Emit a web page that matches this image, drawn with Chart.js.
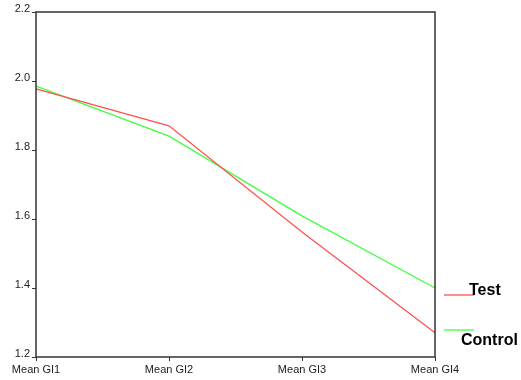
<!DOCTYPE html>
<html>
<head>
<meta charset="utf-8">
<script src="https://cdn.jsdelivr.net/npm/chart.js@4/dist/chart.umd.min.js"></script>
<style>
  html, body { margin: 0; padding: 0; background: #fff; }
  #wrap { width: 521px; height: 380px; }
</style>
</head>
<body>
<div id="wrap"><canvas id="chart" width="521" height="380"></canvas></div>
<script>
// chart data
const categories = ['Mean GI1', 'Mean GI2', 'Mean GI3', 'Mean GI4'];
const testValues = [1.977, 1.87, 1.562, 1.27];
const controlValues = [1.985, 1.84, 1.609, 1.40];
const yTicks = [1.2, 1.4, 1.6, 1.8, 2.0, 2.2];

const axisColor = '#333';

// box around the plot area and the side legend
const framePlugin = {
    id: 'frame',
    afterDraw(chart) {
        const { ctx, chartArea: a } = chart;
        ctx.save();
        ctx.strokeStyle = axisColor;
        ctx.lineWidth = 1.5;
        ctx.strokeRect(a.left, a.top, a.right - a.left, a.bottom - a.top);

        // legend
        const items = [
            { label: 'Test', color: '#ff5050', lineY: 295, textY: 291, textX: 469 },
            { label: 'Control', color: '#40ff40', lineY: 330, textY: 341, textX: 461 }
        ];
        ctx.font = 'bold 16px "Liberation Sans", Arial, sans-serif';
        ctx.textBaseline = 'middle';
        items.forEach(it => {
            ctx.strokeStyle = it.color;
            ctx.lineWidth = 1.3;
            ctx.beginPath();
            ctx.moveTo(444, it.lineY);
            ctx.lineTo(474, it.lineY);
            ctx.stroke();
            ctx.fillStyle = '#000';
            ctx.fillText(it.label, it.textX, it.textY);
        });
        ctx.restore();
    }
};

new Chart(document.getElementById('chart'), {
    type: 'line',
    data: {
        labels: categories,
        datasets: [
            {
                label: 'Test',
                data: testValues,
                borderColor: '#ff5050',
                borderWidth: 1.3,
                pointRadius: 0,
                tension: 0
            },
            {
                label: 'Control',
                data: controlValues,
                borderColor: '#40ff40',
                borderWidth: 1.3,
                pointRadius: 0,
                tension: 0
            }
        ]
    },
    options: {
        responsive: false,
        animation: false,
        layout: { padding: { top: 12, right: 86, left: 0, bottom: 0 } },
        plugins: {
            legend: { display: false },
            tooltip: { enabled: false }
        },
        scales: {
            x: {
                offset: false,
                grid: {
                    drawOnChartArea: false,
                    drawTicks: true,
                    tickLength: 4,
                    color: axisColor
                },
                border: { display: false },
                ticks: {
                    color: '#222',
                    font: { family: '"Liberation Sans", Arial, sans-serif', size: 11 },
                    padding: 2,
                    maxRotation: 0,
                    autoSkip: false
                },
                afterFit(scale) { scale.height = 23; }
            },
            y: {
                min: 1.2,
                max: 2.2,
                afterBuildTicks(scale) {
                    scale.ticks = yTicks.map(v => ({ value: v }));
                },
                grid: {
                    drawOnChartArea: false,
                    drawTicks: true,
                    tickLength: 4,
                    color: axisColor
                },
                border: { display: false },
                ticks: {
                    color: '#222',
                    font: { family: '"Liberation Sans", Arial, sans-serif', size: 11 },
                    padding: 2,
                    labelOffset: -3,
                    callback: v => v.toFixed(1)
                },
                afterFit(scale) { scale.width = 36; }
            }
        }
    },
    plugins: [framePlugin]
});
</script>
</body>
</html>
